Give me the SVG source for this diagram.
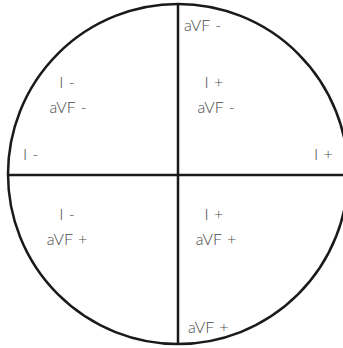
<svg xmlns="http://www.w3.org/2000/svg" width="343" height="348" viewBox="0 0 343 348">
<style>
.ln{stroke:#1a1a1a;stroke-width:2.5;fill:none}
.t{font-family:Lato,"Open Sans","Liberation Sans",sans-serif;font-weight:300;font-size:16px;fill:#4a4a4a;word-spacing:1px}
.m{text-anchor:middle}
</style>
<g id="circle"><circle class="ln" cx="178" cy="174" r="170" stroke-width="3"/></g>
<g id="axes">
<line class="ln" x1="178" y1="4" x2="178" y2="344"/>
<line class="ln" x1="8" y1="175" x2="348" y2="175"/>
</g>
<g id="labels">
<text class="t" x="184" y="31">aVF -</text>
<text class="t m" x="67" y="88">I -</text>
<text class="t m" x="68" y="113">aVF -</text>
<text class="t m" x="214" y="88">I +</text>
<text class="t m" x="216" y="113">aVF -</text>
<text class="t" x="23" y="160">I -</text>
<text class="t" x="314" y="160">I +</text>
<text class="t m" x="67" y="220">I -</text>
<text class="t m" x="67" y="245">aVF +</text>
<text class="t m" x="214" y="220">I +</text>
<text class="t m" x="216" y="245">aVF +</text>
<text class="t" x="188" y="333">aVF +</text>
</g>
</svg>
